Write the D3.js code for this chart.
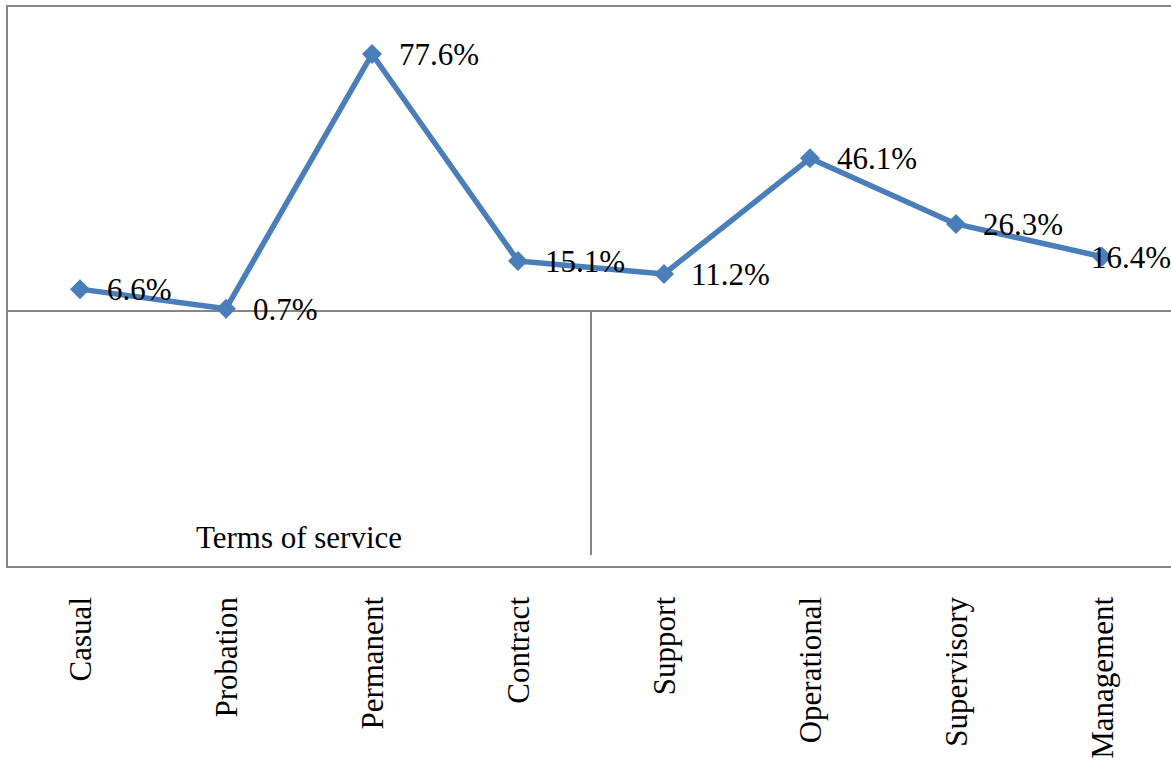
<!DOCTYPE html>
<html>
<head>
<meta charset="utf-8">
<script src="https://cdn.jsdelivr.net/npm/d3@7"></script>
<style>
  html, body { margin: 0; padding: 0; background: #ffffff; }
  svg { display: block; }
</style>
</head>
<body>
<svg id="chart" width="1171" height="761"></svg>
<script>
// Categories along the x axis (two groups: terms of service, then job level)
const categories = ["Casual", "Probation", "Permanent", "Contract",
                    "Support", "Operational", "Supervisory", "Management"];
// Share of respondents per category, in percent
const values = [6.6, 0.7, 77.6, 15.1, 11.2, 46.1, 26.3, 16.4];
// Label of the first category group
const groupLabels = ["Terms of service"];

const W = 1171, H = 761;
const plot = { left: 7, top: 6, right: 1175, bottom: 567 };

const svg = d3.select("#chart");
const blue = "#4a7ebb";
const grey = "#868686";
const serif = "'Liberation Serif', 'Times New Roman', serif";

const x = d3.scaleBand()
  .domain(categories)
  .range([plot.left, plot.right])
  .padding(0);
const cx = c => x(c) + x.bandwidth() / 2;

const y = d3.scaleLinear()
  .domain([-77.3, 92.1])
  .range([plot.bottom, plot.top]);

// Plot area border
svg.append("rect")
  .attr("x", plot.left).attr("y", plot.top)
  .attr("width", plot.right - plot.left)
  .attr("height", plot.bottom - plot.top)
  .attr("fill", "none")
  .attr("stroke", grey)
  .attr("stroke-width", 2);

// Horizontal category axis at zero
svg.append("line")
  .attr("x1", plot.left).attr("x2", plot.right)
  .attr("y1", y(0)).attr("y2", y(0))
  .attr("stroke", grey).attr("stroke-width", 2);

// Divider between the two category groups
const divX = x(categories[4]);
svg.append("line")
  .attr("x1", divX).attr("x2", divX)
  .attr("y1", y(0)).attr("y2", plot.bottom - 12)
  .attr("stroke", grey).attr("stroke-width", 2);

// Group label
svg.append("text")
  .attr("x", (plot.left + divX) / 2)
  .attr("y", plot.bottom - 19)
  .attr("text-anchor", "middle")
  .attr("font-family", serif)
  .attr("font-size", 31)
  .attr("fill", "#000")
  .text(groupLabels[0]);

// Category labels, rotated
svg.append("g")
  .selectAll("text")
  .data(categories)
  .join("text")
  .attr("transform", d => `translate(${cx(d)},${plot.bottom + 30}) rotate(-90)`)
  .attr("text-anchor", "end")
  .attr("dy", "0.35em")
  .attr("font-family", serif)
  .attr("font-size", 31)
  .attr("fill", "#000")
  .text(d => d);

// Series line
const line = d3.line()
  .x((d, i) => cx(categories[i]))
  .y(d => y(d));

svg.append("path")
  .datum(values)
  .attr("d", line)
  .attr("fill", "none")
  .attr("stroke", blue)
  .attr("stroke-width", 5.5)
  .attr("stroke-linejoin", "round");

// Diamond markers
svg.append("g")
  .selectAll("path")
  .data(values)
  .join("path")
  .attr("d", d3.symbol(d3.symbolSquare, 200))
  .attr("transform", (d, i) => `translate(${cx(categories[i])},${y(d)}) rotate(45)`)
  .attr("fill", blue);

// Value labels to the right of each point, kept inside the canvas
const labels = svg.append("g")
  .selectAll("text")
  .data(values)
  .join("text")
  .attr("y", d => y(d))
  .attr("dy", "0.35em")
  .attr("font-family", serif)
  .attr("font-size", 31)
  .attr("fill", "#000")
  .text(d => d.toFixed(1) + "%");

labels.each(function (d, i) {
  const w = this.getComputedTextLength();
  const px = cx(categories[i]) + 27;
  d3.select(this).attr("x", Math.min(px, W - w));
});
</script>
</body>
</html>
